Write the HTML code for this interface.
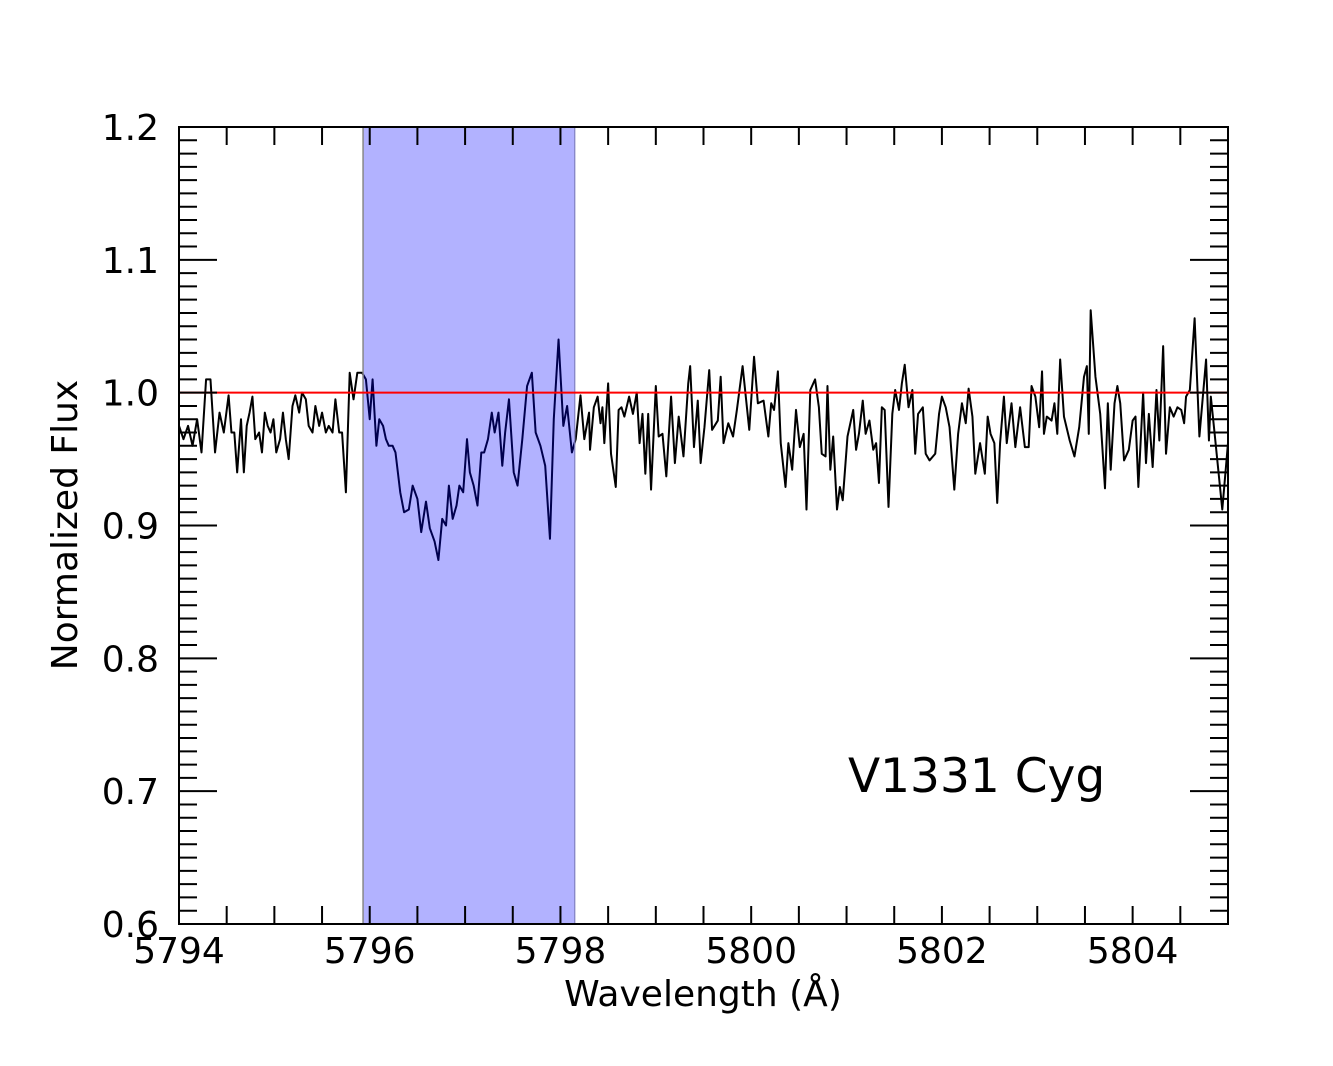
<!DOCTYPE html>
<html><head><meta charset="utf-8"><style>
html,body{margin:0;padding:0;background:#fff;}
svg{display:block;font-family:"DejaVu Sans","Liberation Sans",sans-serif;}
</style></head><body>
<svg id="chart" width="1333" height="1066" xmlns="http://www.w3.org/2000/svg">
<rect width="1333" height="1066" fill="#fff"/>
<g id="plot"></g>
<text x="703" y="1006" font-size="36" text-anchor="middle">Wavelength (Å)</text>
<text transform="translate(77,525) rotate(-90)" font-size="36" text-anchor="middle">Normalized Flux</text>
<text x="848" y="792" font-size="47">V1331 Cyg</text>
</svg>
<script>
const xTicks=[5794,5796,5798,5800,5802,5804];
const yTicks=[0.6,0.7,0.8,0.9,1.0,1.1,1.2];
const bandRange=[5795.93,5798.15];
const continuum=[1.0];
const wave=[5794,5794.047,5794.095,5794.142,5794.19,5794.236,5794.284,5794.33,5794.378,5794.425,5794.47,5794.52,
5794.55,5794.58,5794.61,5794.65,5794.68,5794.71,5794.74,5794.77,5794.80,5794.84,5794.87,5794.90,5794.93,5794.96,5794.99,5795.02,5795.06,5795.09,5795.12,5795.15,
5795.19,5795.22,5795.26,5795.29,5795.33,5795.36,5795.40,5795.43,5795.47,5795.50,5795.54,5795.57,5795.61,5795.64,5795.68,5795.71,5795.75,
5795.79,5795.83,5795.87,5795.92,5795.96,5796.0,
5796.03,5796.07,5796.10,5796.14,5796.17,5796.20,5796.24,5796.27,
5796.32,5796.36,5796.41,5796.45,5796.50,5796.54,5796.59,5796.63,5796.68,5796.72,
5796.76,5796.80,5796.83,5796.87,5796.91,5796.94,5796.98,5797.02,5797.05,5797.09,5797.13,5797.17,5797.20,5797.24,5797.28,5797.31,5797.35,5797.39,5797.42,5797.46,
5797.51,5797.55,5797.60,5797.65,5797.70,5797.74,5797.79,5797.84,5797.89,5797.93,5797.98,
5798.03,5798.07,5798.12,5798.16,5798.21,5798.25,5798.30,
5798.31,5798.35,5798.39,5798.42,5798.44,5798.46,5798.50,5798.53,5798.58,5798.61,5798.64,5798.67,5798.72,5798.76,5798.80,5798.83,5798.86,5798.89,5798.92,5798.95,
5799.00,5799.03,5799.07,5799.11,5799.16,5799.20,5799.24,5799.29,5799.34,5799.36,5799.40,5799.44,5799.47,5799.51,5799.56,5799.59,5799.65,5799.68,5799.71,5799.76,5799.81,5799.85,5799.91,5799.98,
5800.03,5800.07,5800.13,5800.18,5800.21,5800.24,5800.28,5800.31,5800.36,5800.39,5800.43,5800.47,5800.51,5800.55,5800.58,5800.62,5800.67,5800.71,5800.74,5800.78,5800.80,5800.83,5800.86,5800.90,5800.93,5800.96,
5801.01,5801.07,5801.10,5801.13,5801.17,5801.20,5801.24,5801.28,5801.31,5801.34,5801.37,5801.40,5801.44,5801.48,5801.51,5801.55,5801.58,5801.61,5801.65,5801.69,5801.72,5801.75,5801.80,5801.83,5801.87,5801.93,5801.97,
5802.00,5802.04,5802.08,5802.13,5802.17,5802.21,5802.25,5802.28,5802.32,5802.35,5802.40,5802.45,5802.48,5802.51,5802.55,5802.58,5802.61,5802.65,5802.68,5802.73,5802.77,5802.82,5802.87,5802.91,5802.94,5802.98,
5803.02,5803.05,5803.07,5803.10,5803.15,5803.18,5803.21,5803.24,5803.28,5803.34,5803.39,5803.44,5803.49,5803.52,5803.54,5803.56,5803.61,5803.66,5803.71,5803.74,5803.77,5803.81,5803.84,5803.87,5803.91,5803.96,
5804.00,5804.03,5804.06,5804.11,5804.14,5804.17,5804.21,5804.25,5804.28,5804.32,5804.35,5804.39,5804.43,5804.47,5804.51,5804.54,5804.56,5804.60,5804.65,5804.70,5804.77,5804.80,5804.82,5804.86,5804.94,5805.0];
const flux=[0.975,0.965,0.975,0.96,0.98,0.955,1.01,1.01,0.955,0.985,0.97,0.998,
0.97,0.97,0.94,0.98,0.94,0.975,0.985,0.997,0.965,0.97,0.955,0.985,0.975,0.97,0.98,0.955,0.965,0.985,0.965,0.95,
0.99,0.998,0.985,1.0,0.995,0.975,0.97,0.99,0.975,0.985,0.97,0.975,0.97,0.995,0.97,0.97,0.925,
1.015,0.995,1.015,1.015,1.01,0.98,
1.01,0.96,0.98,0.975,0.965,0.96,0.96,0.955,
0.925,0.91,0.912,0.93,0.92,0.895,0.918,0.898,0.888,0.874,
0.905,0.9,0.93,0.905,0.915,0.93,0.925,0.965,0.94,0.93,0.915,0.955,0.955,0.965,0.985,0.97,0.985,0.945,0.97,0.995,
0.94,0.93,0.965,1.005,1.015,0.97,0.96,0.945,0.89,0.98,1.04,
0.975,0.99,0.955,0.965,0.998,0.965,0.985,
0.957,0.989,0.997,0.977,0.989,0.962,1.007,0.954,0.929,0.987,0.989,0.982,0.997,0.984,1.0,0.962,0.984,0.939,0.984,0.927,
1.005,0.967,0.969,0.937,0.997,0.947,0.982,0.952,1.007,1.02,0.959,0.994,0.947,0.974,1.017,0.972,0.979,1.012,0.962,0.977,0.967,0.987,1.02,0.972,
1.027,0.992,0.994,0.967,0.992,0.987,1.016,0.962,0.929,0.962,0.942,0.987,0.959,0.969,0.912,1.002,1.01,0.989,0.954,0.952,1.005,0.942,0.967,0.912,0.929,0.919,
0.967,0.987,0.957,0.969,0.994,0.969,0.979,0.957,0.962,0.932,0.989,0.987,0.914,0.984,1.002,0.987,1.007,1.021,0.989,1.002,0.954,0.984,0.989,0.954,0.949,0.954,0.984,
0.997,0.989,0.974,0.927,0.969,0.992,0.977,1.003,0.982,0.939,0.962,0.939,0.982,0.969,0.962,0.917,0.962,0.997,0.962,0.992,0.959,0.989,0.959,0.959,1.005,0.997,
0.974,1.016,0.969,0.982,0.979,0.992,0.969,1.025,0.982,0.964,0.952,0.974,1.012,1.02,0.969,1.062,1.012,0.984,0.928,0.992,0.942,0.992,1.005,0.992,0.949,0.957,
0.979,0.982,0.929,1.0,0.947,0.984,0.944,1.002,0.964,1.035,0.954,0.989,0.982,0.989,0.987,0.977,0.997,1.002,1.056,0.967,1.025,0.964,0.997,0.969,0.912,0.962];

const X0=179,X1=1228,Y0=127,Y1=924,XMIN=5794,XMAX=5805,YMIN=0.6,YMAX=1.2;
const xs=v=>X0+(v-XMIN)/(XMAX-XMIN)*(X1-X0);
const ys=v=>Y1-(v-YMIN)/(YMAX-YMIN)*(Y1-Y0);
const NS='http://www.w3.org/2000/svg';
const plot=document.getElementById('plot');
function mk(tag,attrs,parent){const e=document.createElementNS(NS,tag);for(const k in attrs)e.setAttribute(k,attrs[k]);(parent||plot).appendChild(e);return e;}

let d='';
for(let i=0;i<wave.length;i++){d+=(i?'L':'M')+xs(wave[i]).toFixed(2)+','+ys(flux[i]).toFixed(2);}
const sp=mk('path',{d:d,fill:'none',stroke:'#000','stroke-width':2,'stroke-linejoin':'round'});



const band=mk('rect',{x:xs(bandRange[0]),y:Y0,width:xs(bandRange[1])-xs(bandRange[0]),height:Y1-Y0,fill:'rgb(0,0,255)','fill-opacity':0.3});


const e1=mk('line',{x1:xs(bandRange[0]),x2:xs(bandRange[0]),y1:Y0,y2:Y1,stroke:'#888','stroke-width':1.5});


const e2=mk('line',{x1:xs(bandRange[1]),x2:xs(bandRange[1]),y1:Y0,y2:Y1,stroke:'#8080c0','stroke-width':1.2});



const cl=mk('line',{x1:X0,x2:X1,y1:ys(continuum[0]),y2:ys(continuum[0]),stroke:'#f00','stroke-width':2});



for(let v=XMIN;v<=XMAX+1e-6;v+=0.5){
  const x=xs(v);
  const t1=mk('line',{x1:x,x2:x,y1:Y1,y2:Y1-18,stroke:'#000','stroke-width':2});
  
  
  const t2=mk('line',{x1:x,x2:x,y1:Y0,y2:Y0+18,stroke:'#000','stroke-width':2});
  
  
}
for(let i=0;i<=60;i++){
  const v=YMIN+i*0.01, y=ys(v), L=(i%10===0)?38:18;
  const t1=mk('line',{x1:X0,x2:X0+L,y1:y,y2:y,stroke:'#000','stroke-width':2});
  
  
  const t2=mk('line',{x1:X1,x2:X1-L,y1:y,y2:y,stroke:'#000','stroke-width':2});
  
  
}
xTicks.forEach(v=>{
  const t=mk('text',{x:xs(v),y:963,'font-size':36,'text-anchor':'middle'});
  t.textContent=v;
  
  
});
yTicks.forEach(v=>{
  const t=mk('text',{x:159,y:ys(v)+13,'font-size':36,'text-anchor':'end'});
  t.textContent=v.toFixed(1);
  
  
});
const fr=mk('rect',{x:X0,y:Y0,width:X1-X0,height:Y1-Y0,fill:'none',stroke:'#000','stroke-width':2});


</script>
</body></html>
